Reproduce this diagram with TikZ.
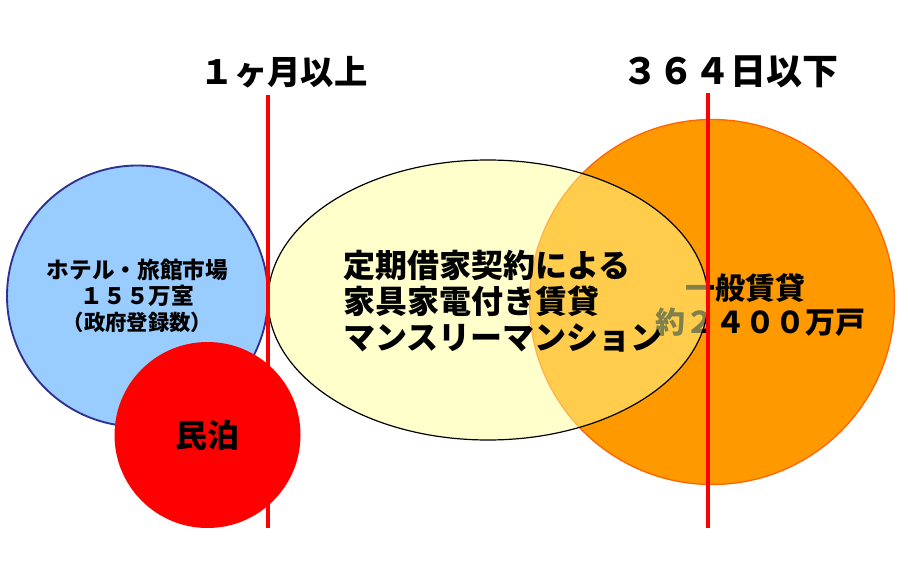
\documentclass[tikz,border=0pt]{standalone}
\usepackage{fontspec}
\setmainfont{Noto Sans CJK JP}[BoldFont={Noto Sans CJK JP Black}]
\usepackage{xcolor}
\usepackage{tikz}
\usetikzlibrary{shapes.geometric,positioning}
\definecolor{MkBlue}{HTML}{99CCFF}
\definecolor{MkNavy}{HTML}{2E3192}
\definecolor{MkRed}{HTML}{FF0000}
\definecolor{MkOrange}{HTML}{FF9900}
\definecolor{MkRim}{HTML}{FF6600}
\definecolor{MkCream}{HTML}{FFFF99}

\begin{document}
\begin{tikzpicture}[
    x=0.75pt, y=-0.75pt,
    market/.style={circle, inner sep=0pt, align=center, font=\bfseries\fontsize{17pt}{19.5pt}\selectfont},
    hotel/.style={market, draw=MkNavy, line width=1.4pt, fill=MkBlue, minimum size=195.75pt},
    minpaku/.style={market, fill=MkRed, minimum size=139.5pt, font=\bfseries\fontsize{24pt}{26pt}\selectfont},
    rental/.style={market, draw=MkRim, line width=1pt, fill=MkOrange, minimum size=273.75pt},
    monthly/.style={ellipse, draw=black, line width=0.9pt, fill=MkCream, fill opacity=0.5, inner sep=0pt, minimum width=330pt, minimum height=210pt},
    bigtxt/.style={inner sep=0pt, font=\bfseries\fontsize{24pt}{27pt}\selectfont},
    limit/.style={font=\bfseries\fontsize{25pt}{27pt}\selectfont, inner sep=0pt},
    border/.style={draw=MkRed, line width=2.3pt}
  ]
    \useasboundingbox[fill=white] (0,0) rectangle (908,578);

    \node[hotel] (hotel) at (137.5,296) {ホテル・旅館市場\\１５５万室\\{\fontsize{16pt}{18pt}\selectfont （政府登録数）}};
    \node[minpaku] (minpaku) at (207.5,435) {民泊};

    \node[rental] (rental) at (712,302) {};
    \node[bigtxt, align=left, anchor=west, font=\bfseries\fontsize{22.5pt}{26pt}\selectfont] (rentaltxt) at (655,305) {\hspace*{23pt}一般賃貸\\約２４００万戸};

    \node[monthly] (monthly) at (488,300) {};
    \node[bigtxt, align=left, anchor=west] (monthlytxt) at (343,301) {定期借家契約による\\家具家電付き賃貸\\マンスリーマンション};

    \coordinate (lowtop) at (268,95);
    \coordinate (lowbot) at (268,528);
    \coordinate (hightop) at (708,93);
    \coordinate (highbot) at (708,528);
    \draw[border] (lowtop) -- (lowbot);
    \draw[border] (hightop) -- (highbot);

    \node[limit] (lowlabel) at (284,72) {１ヶ月以上};
    \node[limit, font=\bfseries\fontsize{27pt}{29pt}\selectfont] (highlabel) at (730,72) {３６４日以下};
  \end{tikzpicture}
\end{document}
